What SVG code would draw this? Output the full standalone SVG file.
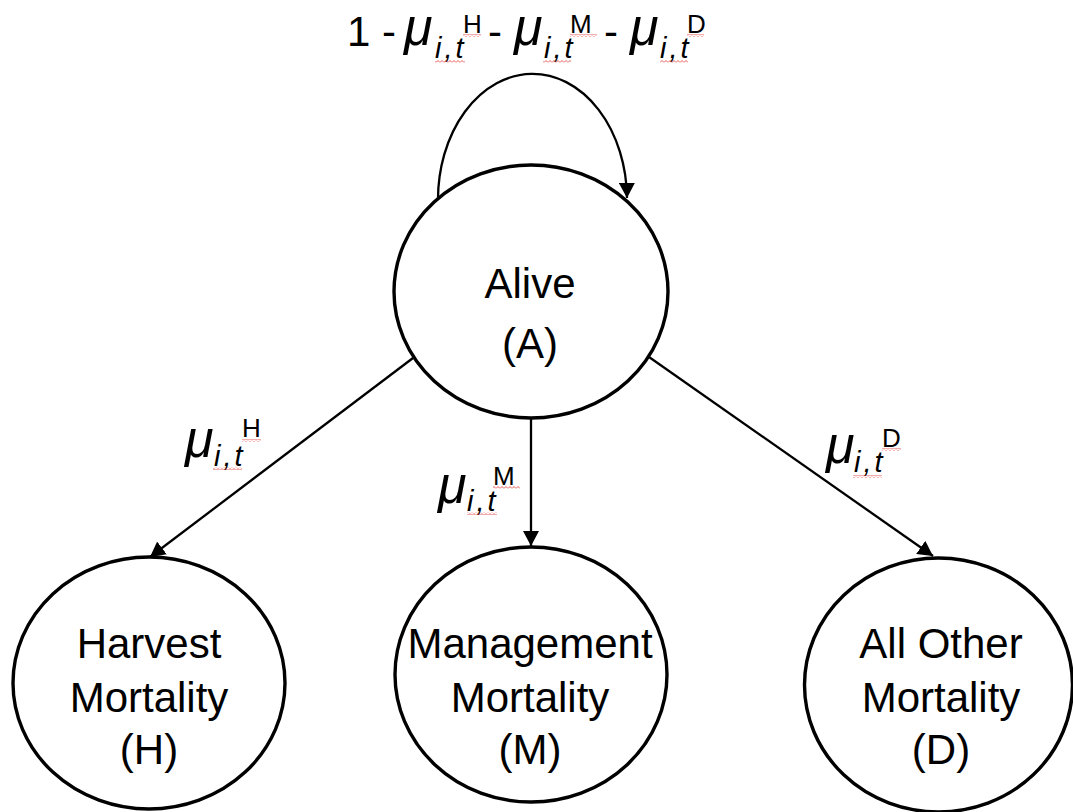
<svg xmlns="http://www.w3.org/2000/svg" width="1073" height="812" viewBox="0 0 1073 812">
<style>
.node{fill:#fff;stroke:#000;stroke-width:3.4}
.lbl{font-family:"Liberation Sans",Arial,sans-serif;font-size:42px;fill:#000;text-anchor:middle}
.edge{fill:none;stroke:#000;stroke-width:2.3}
.eq{font-family:"Liberation Sans",Arial,sans-serif;fill:#000;font-size:42px}
.mu{font-size:52px;font-style:italic}
.sub{font-size:29px;font-style:italic;letter-spacing:3px}
.sup{font-size:26px;font-style:normal;letter-spacing:0}
.sq{fill:url(#squig)}
</style>
<defs>
<marker id="arrow" markerUnits="userSpaceOnUse" markerWidth="16" markerHeight="16" viewBox="0 0 16 16" refX="15" refY="8" orient="auto">
<path d="M0,0 L15,8 L0,16 z" fill="#000"/>
</marker>
<pattern id="squig" patternUnits="userSpaceOnUse" width="4" height="3">
<path d="M0,2.5 L2,0.5 L4,2.5" fill="none" stroke="#e03030" stroke-width="0.8"/>
</pattern>
</defs>
<rect width="1073" height="812" fill="#fff"/>

<g id="connectors">
<path class="edge" d="M438,201 A94,125 0 0 1 627,198" marker-end="url(#arrow)"/>
<line class="edge" x1="413" y1="358" x2="150" y2="557" marker-end="url(#arrow)"/>
<line class="edge" x1="531" y1="418" x2="531" y2="546" marker-end="url(#arrow)"/>
<line class="edge" x1="649" y1="357" x2="933" y2="556" marker-end="url(#arrow)"/>
</g>

<g id="node-alive">
<ellipse class="node" cx="531" cy="291.5" rx="137" ry="126.5"/>
<text class="lbl" x="530" y="298">Alive</text>
<text class="lbl" x="530" y="358">(A)</text>
</g>

<g id="node-harvest">
<ellipse class="node" cx="149" cy="683" rx="136" ry="126"/>
<text class="lbl" x="149" y="658">Harvest</text>
<text class="lbl" x="149" y="712">Mortality</text>
<text class="lbl" x="149" y="764">(H)</text>
</g>

<g id="node-management">
<ellipse class="node" cx="531" cy="674.5" rx="136" ry="127.5"/>
<text class="lbl" x="530" y="658">Management</text>
<text class="lbl" x="530" y="712">Mortality</text>
<text class="lbl" x="530" y="764">(M)</text>
</g>

<g id="node-other">
<ellipse class="node" cx="938.5" cy="685" rx="134" ry="127"/>
<text class="lbl" x="941" y="658">All Other</text>
<text class="lbl" x="941" y="712">Mortality</text>
<text class="lbl" x="941" y="764">(D)</text>
</g>

<g id="label-self">
<text class="eq" x="347" y="46">1 -<tspan class="mu" x="404" y="45">μ</tspan><tspan class="sub" x="435" y="58">i,t</tspan><tspan class="sup" x="463" y="33">H</tspan><tspan x="488" y="46">-</tspan><tspan class="mu" x="514" y="45">μ</tspan><tspan class="sub" x="544" y="58">i,t</tspan><tspan class="sup" x="570" y="33">M</tspan><tspan x="604" y="46">-</tspan><tspan class="mu" x="630" y="45">μ</tspan><tspan class="sub" x="660" y="58">i,t</tspan><tspan class="sup" x="687" y="33">D</tspan></text>
<rect class="sq" x="463" y="34" width="18" height="3"/>
<rect class="sq" x="435" y="60" width="30" height="3"/>
<rect class="sq" x="570" y="34" width="27" height="3"/>
<rect class="sq" x="543" y="60" width="28" height="3"/>
<rect class="sq" x="687" y="34" width="17" height="3"/>
<rect class="sq" x="660" y="60" width="28" height="3"/>
</g>

<g id="label-h">
<text class="eq"><tspan class="mu" x="185" y="457">μ</tspan><tspan class="sub" x="214" y="466">i,t</tspan><tspan class="sup" x="242" y="437">H</tspan></text>
<rect class="sq" x="242" y="439" width="19" height="3"/>
<rect class="sq" x="213" y="467" width="29" height="3"/>
</g>

<g id="label-m">
<text class="eq"><tspan class="mu" x="438" y="503">μ</tspan><tspan class="sub" x="467" y="511">i,t</tspan><tspan class="sup" x="493" y="485">M</tspan></text>
<rect class="sq" x="493" y="486" width="27" height="3"/>
<rect class="sq" x="467" y="512" width="30" height="3"/>
</g>

<g id="label-d">
<text class="eq"><tspan class="mu" x="826" y="463">μ</tspan><tspan class="sub" x="854" y="472">i,t</tspan><tspan class="sup" x="882" y="447">D</tspan></text>
<rect class="sq" x="882" y="448" width="19" height="3"/>
<rect class="sq" x="853" y="475" width="29" height="3"/>
</g>
</svg>
